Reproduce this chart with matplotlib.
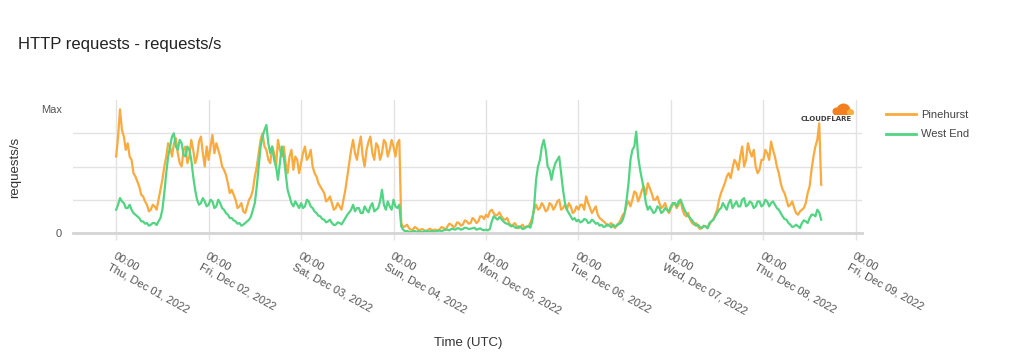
import numpy as np
import pandas as pd
import matplotlib
matplotlib.use('Agg')
import matplotlib.pyplot as plt
import matplotlib.dates as mdates
from matplotlib.patches import Circle

plt.rcParams['font.family'] = ['Liberation Sans', 'DejaVu Sans']

# values, Dec 01 00:00 -> Dec 08 15:00 (UTC)
# units: one horizontal gridline step
# *_hour = value on the hour, *_half = value at hh:30
pinehurst_hour = [
    2.3, 3.72, 2.9, 2.7, 2.2, 1.7, 1.4, 1.1, 0.85, 0.7, 0.8, 1.0,
    1.6, 2.3, 2.6, 2.7, 2.4, 2.0, 2.6, 2.3, 2.5, 2.3, 2.9, 2.0,
    2.2, 2.95, 2.7, 2.3, 1.9, 1.5, 1.3, 1.0, 0.8, 0.65, 0.8, 1.1,
    1.7, 2.4, 3.0, 2.5, 2.1, 2.4, 2.8, 2.3, 2.1, 2.3, 1.9, 2.2,
    2.1, 2.6, 2.3, 2.0, 1.7, 1.4, 1.2, 1.0, 0.9, 0.75, 0.8, 1.0,
    1.7, 2.5, 2.4, 2.6, 2.3, 2.5, 2.9, 2.2, 2.6, 2.4, 2.7, 2.5,
    2.6, 2.7, 0.3, 0.2, 0.15, 0.1, 0.15, 0.1, 0.08, 0.1, 0.08, 0.1,
    0.12, 0.15, 0.2, 0.25, 0.2, 0.3, 0.25, 0.35, 0.3, 0.4, 0.35, 0.5,
    0.55, 0.65, 0.6, 0.55, 0.5, 0.4, 0.3, 0.25, 0.2, 0.2, 0.15, 0.2,
    0.45, 0.85, 0.75, 0.8, 0.7, 0.85, 0.8, 1.0, 0.75, 0.7, 0.8, 0.65,
    0.7, 0.85, 1.1, 0.75, 0.7, 0.55, 0.4, 0.3, 0.25, 0.2, 0.25, 0.4,
    0.6, 0.95, 1.0, 1.2, 1.1, 1.4, 1.5, 1.2, 1.0, 0.9, 0.8, 0.7,
    0.75, 0.9, 0.85, 0.7, 0.5, 0.4, 0.25, 0.2, 0.15, 0.2, 0.25, 0.4,
    0.7, 1.2, 1.5, 1.8, 1.95, 2.1, 2.3, 2.0, 2.7, 2.3, 2.0, 1.9,
    2.2, 2.4, 2.75, 2.3, 1.8, 1.3, 1.0, 0.85, 0.75, 0.55, 0.7, 0.9,
    1.4, 2.3, 2.8, 1.45,
]
pinehurst_half = [
    2.9, 3.1, 2.5, 2.3, 1.8, 1.55, 1.15, 0.95, 0.65, 0.85, 0.7, 1.3,
    2.0, 2.7, 2.3, 2.85, 2.1, 2.5, 2.1, 2.8, 2.1, 2.75, 2.4, 2.6,
    2.6, 2.4, 2.5, 2.0, 1.75, 1.2, 1.15, 0.75, 0.9, 0.6, 1.0, 1.3,
    2.0, 2.8, 2.6, 2.2, 2.6, 2.0, 2.5, 2.6, 1.8, 2.5, 2.3, 1.8,
    2.4, 2.2, 2.5, 1.8, 1.5, 1.3, 0.95, 1.1, 0.7, 0.9, 0.7, 1.3,
    2.1, 2.8, 2.2, 2.9, 2.0, 2.75, 2.4, 2.7, 2.2, 2.8, 2.3, 2.8,
    2.3, 2.8, 0.18, 0.25, 0.1, 0.18, 0.08, 0.12, 0.06, 0.13, 0.1, 0.07,
    0.18, 0.1, 0.28, 0.18, 0.32, 0.22, 0.38, 0.28, 0.45, 0.3, 0.5, 0.42,
    0.48, 0.7, 0.52, 0.62, 0.42, 0.45, 0.22, 0.3, 0.14, 0.25, 0.2, 0.3,
    0.7, 0.7, 0.9, 0.65, 0.9, 0.7, 0.95, 0.7, 0.85, 0.9, 0.6, 0.8,
    0.85, 0.7, 0.9, 0.6, 0.8, 0.45, 0.35, 0.22, 0.3, 0.15, 0.3, 0.55,
    0.85, 0.8, 1.25, 0.95, 1.3, 1.15, 1.35, 1.0, 1.1, 0.75, 0.9, 0.6,
    0.85, 0.75, 1.0, 0.55, 0.6, 0.3, 0.3, 0.12, 0.22, 0.15, 0.35, 0.55,
    1.0, 1.35, 1.7, 1.65, 2.2, 1.9, 2.6, 2.2, 2.45, 2.5, 1.8, 2.2,
    2.5, 2.2, 2.5, 2.0, 1.5, 1.2, 0.8, 0.95, 0.6, 0.65, 0.75, 1.2,
    1.9, 2.6, 3.3,
]
west_end_hour = [
    0.7, 1.05, 0.9, 0.75, 0.7, 0.55, 0.45, 0.35, 0.3, 0.25, 0.3, 0.35,
    0.7, 1.8, 2.6, 3.0, 2.5, 2.7, 2.3, 2.5, 1.7, 1.0, 0.9, 0.95,
    0.85, 0.95, 0.8, 0.9, 0.7, 0.55, 0.45, 0.35, 0.3, 0.25, 0.35, 0.5,
    0.9, 2.0, 2.9, 3.25, 2.4, 2.2, 1.6, 2.6, 1.8, 1.1, 0.8, 0.85,
    0.9, 0.8, 0.95, 0.75, 0.6, 0.5, 0.4, 0.35, 0.3, 0.25, 0.3, 0.35,
    0.55, 0.7, 0.65, 0.75, 0.6, 0.7, 0.8, 0.65, 0.75, 1.3, 0.7, 0.8,
    1.0, 0.75, 0.2, 0.05, 0.04, 0.05, 0.03, 0.04, 0.05, 0.04, 0.06, 0.05,
    0.07, 0.08, 0.1, 0.12, 0.1, 0.14, 0.12, 0.15, 0.13, 0.16, 0.12, 0.1,
    0.1, 0.12, 0.5, 0.4, 0.42, 0.3, 0.25, 0.22, 0.15, 0.18, 0.14, 0.2,
    0.35, 1.6, 2.2, 2.8, 2.0, 1.6, 2.1, 2.3, 1.3, 0.7, 0.5, 0.45,
    0.4, 0.35, 0.4, 0.32, 0.35, 0.3, 0.25, 0.2, 0.22, 0.25, 0.22, 0.3,
    0.6, 1.5, 2.5, 3.05, 1.9, 1.3, 0.7, 0.7, 0.65, 0.75, 0.65, 0.7,
    0.8, 0.9, 0.95, 0.85, 0.6, 0.45, 0.3, 0.25, 0.15, 0.2, 0.3, 0.4,
    0.6, 0.75, 0.8, 0.9, 0.75, 0.95, 0.8, 1.05, 0.85, 0.9, 0.8, 0.95,
    0.85, 0.95, 0.9, 0.85, 0.7, 0.5, 0.4, 0.25, 0.2, 0.2, 0.3, 0.35,
    0.45, 0.55, 0.7, 0.4,
]
west_end_half = [
    0.85, 0.95, 0.75, 0.85, 0.6, 0.5, 0.35, 0.28, 0.22, 0.3, 0.24, 0.45,
    1.2, 2.3, 2.9, 2.6, 2.8, 2.35, 2.6, 2.2, 1.3, 0.85, 1.05, 0.8,
    1.0, 0.75, 1.0, 0.75, 0.6, 0.45, 0.38, 0.28, 0.22, 0.3, 0.4, 0.7,
    1.4, 2.6, 3.1, 2.7, 2.6, 2.0, 2.1, 2.3, 1.3, 0.9, 0.95, 0.75,
    0.75, 1.0, 0.8, 0.65, 0.52, 0.42, 0.32, 0.4, 0.24, 0.32, 0.26, 0.45,
    0.62, 0.85, 0.75, 0.6, 0.8, 0.62, 0.9, 0.7, 0.95, 0.85, 0.95, 0.7,
    0.8, 0.85, 0.1, 0.06, 0.03, 0.06, 0.05, 0.03, 0.06, 0.05, 0.04, 0.07,
    0.06, 0.1, 0.08, 0.12, 0.14, 0.1, 0.16, 0.12, 0.14, 0.1, 0.14, 0.08,
    0.08, 0.35, 0.45, 0.48, 0.35, 0.28, 0.2, 0.17, 0.2, 0.12, 0.18, 0.16,
    0.8, 2.0, 2.6, 2.5, 1.9, 1.9, 2.2, 1.8, 0.9, 0.6, 0.4, 0.35,
    0.32, 0.42, 0.3, 0.4, 0.28, 0.22, 0.18, 0.26, 0.17, 0.2, 0.27, 0.4,
    1.0, 2.2, 2.6, 2.3, 1.6, 0.9, 0.8, 0.6, 0.8, 0.6, 0.75, 0.65,
    0.9, 0.8, 1.0, 0.7, 0.5, 0.38, 0.22, 0.18, 0.2, 0.14, 0.35, 0.5,
    0.7, 0.9, 0.7, 1.0, 0.85, 0.8, 1.0, 0.8, 0.95, 0.75, 0.95, 0.8,
    1.0, 0.8, 0.95, 0.75, 0.6, 0.42, 0.3, 0.18, 0.25, 0.15, 0.38, 0.3,
    0.55, 0.5, 0.62,
]
series_names = ['Pinehurst', 'West End']
series_colors = ['#FBAA3F', '#52D483']


def merge(on_hour, on_half):
    out = np.empty(len(on_hour) + len(on_half))
    out[0::2] = on_hour
    out[1::2] = on_half
    return out


pinehurst = merge(pinehurst_hour, pinehurst_half)
west_end = merge(west_end_hour, west_end_half)
times = pd.date_range('2022-12-01 00:00', periods=len(pinehurst), freq='30min')

fig = plt.figure(figsize=(10.2, 3.6), dpi=100)
ax = fig.add_axes([73/1020, 1-233/360, (862-73)/1020, 133/360])

for vals, name, col in zip([pinehurst, west_end], series_names, series_colors):
    ax.plot(times, vals, color=col, lw=1.6, label=name)

x0 = pd.Timestamp('2022-12-01')
ax.set_xlim(x0 - pd.Timedelta(hours=11.2), x0 + pd.Timedelta(hours=193.6))
ax.set_ylim(0, 4)

grid_col = '#e3e3e3'
ax.xaxis.set_major_locator(mdates.DayLocator())
ax.xaxis.set_major_formatter(mdates.DateFormatter('%H:%M\n%a, %b %d, %Y'))
ax.tick_params(axis='x', length=5, color=grid_col, width=1, pad=8,
               labelsize=8, labelcolor='#555555')
for lab in ax.get_xticklabels():
    lab.set_rotation(-29)
    lab.set_ha('left')
    lab.set_va('top')
    lab.set_rotation_mode('anchor')
    lab.set_multialignment('left')
ax.grid(axis='x', color=grid_col, lw=1)

ymax = max(pinehurst.max(), west_end.max())
ax.set_yticks([0, ymax])
ax.set_yticklabels(['0', 'Max'])
ax.set_yticks([1, 2, 3], minor=True)
ax.tick_params(axis='y', which='both', length=0, pad=8, labelsize=8,
               labelcolor='#555555')
ax.grid(axis='y', which='minor', color=grid_col, lw=1)
ax.set_axisbelow(True)

for s in ['left', 'right', 'top']:
    ax.spines[s].set_visible(False)
ax.spines['bottom'].set_color('#d4d4d4')
ax.spines['bottom'].set_linewidth(2)

fig.text(18/1020, 1-45/360, 'HTTP requests - requests/s', fontsize=12,
         color='#222222', va='center', ha='left')
fig.text(15/1020, 1-167/360, 'requests/s', rotation=90, fontsize=9.5,
         color='#333333', va='center', ha='center')
fig.text(468/1020, 1-343/360, 'Time (UTC)', fontsize=9.5,
         color='#333333', va='center', ha='center')

leg = fig.legend(loc='upper left', bbox_to_anchor=(886/1020, 1-110/360),
                 frameon=False, fontsize=8, handlelength=2.7,
                 handletextpad=0.45, labelspacing=0.85, borderpad=0,
                 borderaxespad=0)
for t in leg.get_texts():
    t.set_color('#444444')
for h in leg.get_lines():
    h.set_linewidth(2)

# cloudflare mark in the corner
lax = fig.add_axes([828/1020, 1-115/360, 26/1020, 13/360])
lax.set_xlim(0, 26)
lax.set_ylim(0, 13)
lax.axis('off')
lax.add_patch(Circle((8.5, 3.5), 4.0, color='#F38020', lw=0))
lax.add_patch(Circle((15.5, 4.5), 7.0, color='#F38020', lw=0))
lax.add_patch(Circle((22.5, 2.5), 3.5, color='#FAAE40', lw=0))
fig.text(826/1020, 1-119.5/360, 'CLOUDFLARE', fontsize=5, fontweight='bold',
         color='#404041', ha='center', va='center', family='DejaVu Sans')

fig.savefig('out.png', dpi=100)
